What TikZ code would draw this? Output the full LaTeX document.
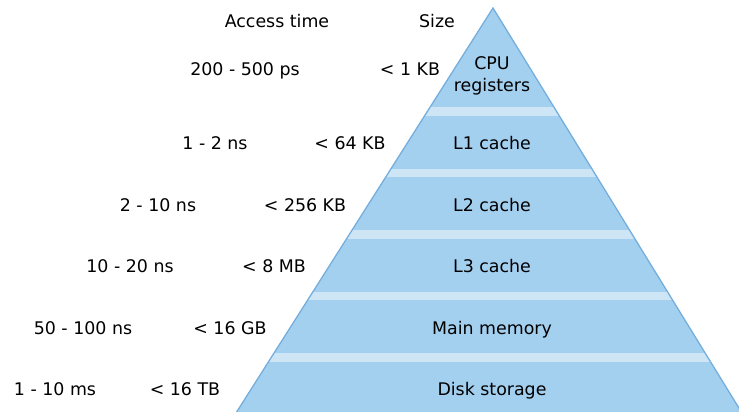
\documentclass[tikz,border=0pt]{standalone}
\usepackage{fontspec}
\setmainfont{DejaVu Sans}
\definecolor{pyrfill}{HTML}{A4D0F0}
\definecolor{pyrband}{HTML}{CDE5F5}
\definecolor{pyredge}{HTML}{74AEDD}
\begin{document}
\begin{tikzpicture}[x=1pt,y=-1pt,
  lbl/.style={inner sep=0pt,anchor=base,font=\fontsize{17.4}{22}\selectfont,text=black},
  band/.style={fill=pyrband,draw=none}]
\useasboundingbox (0,0) rectangle (739,412);
\begin{scope}
\clip (0,0) rectangle (739,412);
\coordinate (apex) at (493,8);
\coordinate (bl) at (236,413);
\coordinate (br) at (742,413);
\fill[pyrfill] (apex) -- (bl) -- (br) -- cycle;
\begin{scope}
\clip (apex) -- (bl) -- (br) -- cycle;
\foreach \t in {107,168.5,230,291.5,353}{
  \fill[pyrband] (200,\t) rectangle (760,\t+8.5);
}
\end{scope}
\draw[pyredge,line width=1.3pt,line join=miter] (bl) -- (apex) -- (br);
\end{scope}
\node[lbl] (hacc) at (277,28) {Access time};
\node[lbl] (hsize) at (437,28) {Size};
\node[lbl] (cpu) at (492,70) {CPU};
\node[lbl] (cpu2) at (492,92) {registers};
\node[lbl] (l1) at (492,149) {L1 cache};
\node[lbl] (l2) at (492,211) {L2 cache};
\node[lbl] (l3) at (492,272) {L3 cache};
\node[lbl] (mem) at (492,334) {Main memory};
\node[lbl] (disk) at (492,395) {Disk storage};
\node[lbl] (t0) at (245,76) {200 - 500 ps};
\node[lbl] (s0) at (410,76) {< 1 KB};
\node[lbl] (t1) at (215,149) {1 - 2 ns};
\node[lbl] (s1) at (350,149) {< 64 KB};
\node[lbl] (t2) at (158,211) {2 - 10 ns};
\node[lbl] (s2) at (305,211) {< 256 KB};
\node[lbl] (t3) at (130,272) {10 - 20 ns};
\node[lbl] (s3) at (274,272) {< 8 MB};
\node[lbl] (t4) at (83,334) {50 - 100 ns};
\node[lbl] (s4) at (230,334) {< 16 GB};
\node[lbl] (t5) at (55,395) {1 - 10 ms};
\node[lbl] (s5) at (185,395) {< 16 TB};
\end{tikzpicture}
\end{document}
